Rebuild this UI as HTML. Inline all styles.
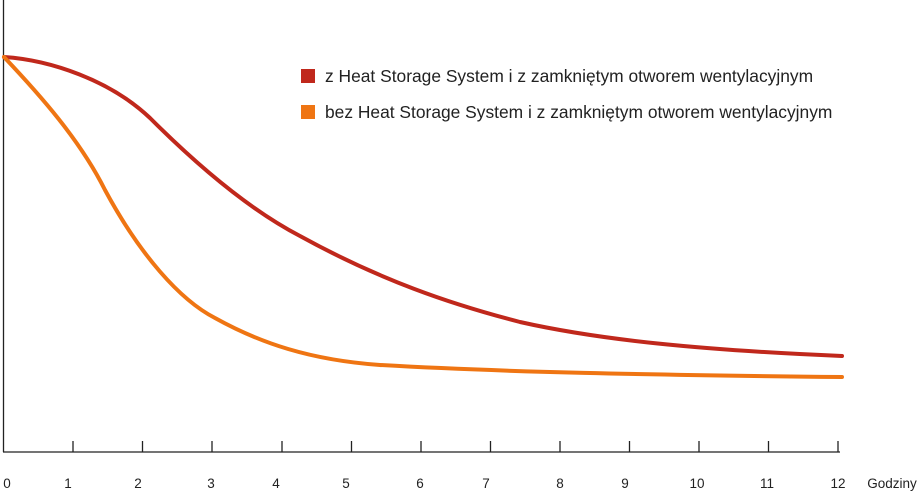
<!DOCTYPE html>
<html><head><style>
body{margin:0;background:#fff;width:921px;height:492px;overflow:hidden;font-family:"Liberation Sans",sans-serif}
</style></head><body>
<svg width="921" height="492" xmlns="http://www.w3.org/2000/svg">
<line x1="3.5" y1="0" x2="3.5" y2="452" stroke="#222" stroke-width="1.3"/>
<line x1="3" y1="452" x2="840" y2="452" stroke="#222" stroke-width="1.3"/>
<g stroke="#222" stroke-width="1.3">
<line x1="73" y1="441" x2="73" y2="452"/><line x1="142.5" y1="441" x2="142.5" y2="452"/>
<line x1="212" y1="441" x2="212" y2="452"/><line x1="282" y1="441" x2="282" y2="452"/>
<line x1="351.5" y1="441" x2="351.5" y2="452"/><line x1="421" y1="441" x2="421" y2="452"/>
<line x1="490.5" y1="441" x2="490.5" y2="452"/><line x1="560" y1="441" x2="560" y2="452"/>
<line x1="629.5" y1="441" x2="629.5" y2="452"/><line x1="699" y1="441" x2="699" y2="452"/>
<line x1="768.5" y1="441" x2="768.5" y2="452"/><line x1="838" y1="441" x2="838" y2="452"/>
</g>
<g font-size="13.5" fill="#222" text-anchor="middle">
<text x="7" y="488">0</text><text x="68" y="488">1</text><text x="138" y="488">2</text><text x="211" y="488">3</text><text x="276" y="488">4</text><text x="346" y="488">5</text><text x="420" y="488">6</text><text x="486" y="488">7</text><text x="560" y="488">8</text><text x="625" y="488">9</text><text x="697" y="488">10</text><text x="767" y="488">11</text><text x="838" y="488">12</text>
<text x="892" y="488">Godziny</text>
</g>
<path d="M4,57 C50,60 110,80 150,118 C200,168 250,210 300,236 C380,280 450,304 520,322 C600,340 700,350 842,356" fill="none" stroke="#c0281c" stroke-width="4" stroke-linecap="round"/>
<path d="M4,57 C40,95 80,140 105,190 C140,255 180,300 215,318 C260,343 310,360 380,365 C500,372 650,375 842,377" fill="none" stroke="#ef7513" stroke-width="4" stroke-linecap="round"/>
<rect x="301" y="69" width="14" height="14" fill="#c0281c"/>
<rect x="301" y="105" width="14" height="14" fill="#ef7513"/>
<g font-size="17.4" fill="#222">
<text x="325" y="82">z Heat Storage System i z zamkniętym otworem wentylacyjnym</text>
<text x="325" y="118">bez Heat Storage System i z zamkniętym otworem wentylacyjnym</text>
</g>
</svg>
</body></html>
